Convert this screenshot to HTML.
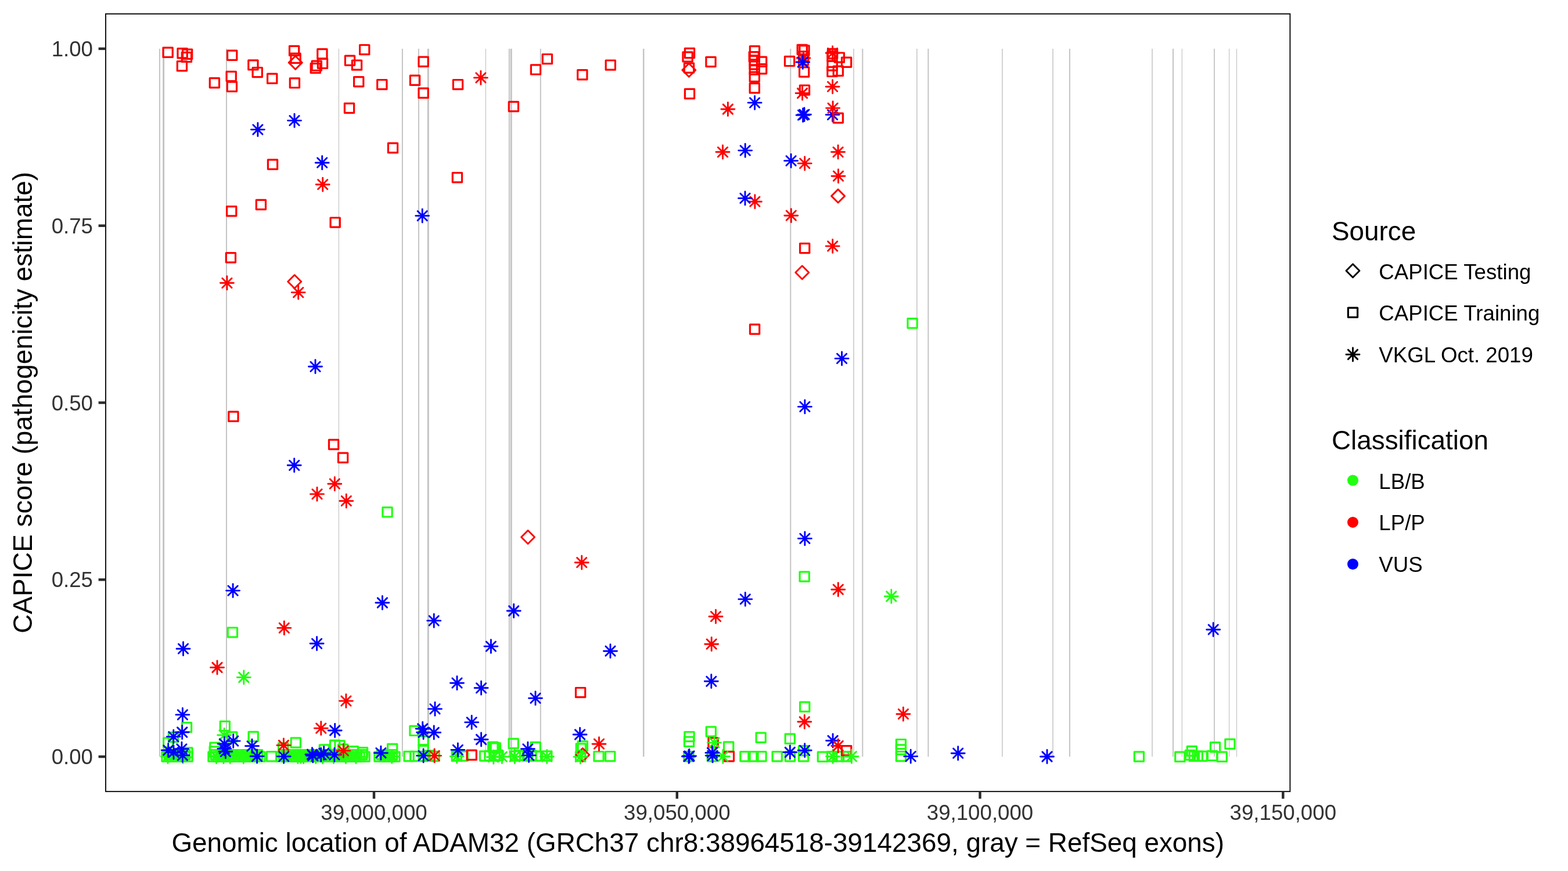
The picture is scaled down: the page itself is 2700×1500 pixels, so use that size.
<!DOCTYPE html>
<html><head><meta charset="utf-8"><title>CAPICE score plot</title>
<style>
html,body{margin:0;padding:0;background:#fff;overflow:hidden;}
svg{display:block;}
text{font-family:"Liberation Sans",Arial,Helvetica,sans-serif;}
</style></head><body>
<svg width="2700" height="1500" viewBox="0 0 2700 1500">
<rect x="0" y="0" width="2700" height="1500" fill="#fff"/>

<g fill="#C4C4C4">
<rect x="273.9" y="83.9" width="2" height="1219.2"/>
<rect x="280.1" y="83.9" width="3" height="1219.2"/>
<rect x="389" y="83.9" width="2" height="1219.2"/>
<rect x="582.8" y="83.9" width="1.2" height="1219.2"/>
<rect x="691.9" y="83.9" width="2" height="1219.2"/>
<rect x="719.9" y="83.9" width="2" height="1219.2"/>
<rect x="735.8" y="83.9" width="3" height="1219.2"/>
<rect x="835.8" y="83.9" width="1.2" height="1219.2"/>
<rect x="875.8" y="83.9" width="2" height="1219.2"/>
<rect x="878.7" y="83.9" width="3" height="1219.2"/>
<rect x="929.8" y="83.9" width="2" height="1219.2"/>
<rect x="1106.95" y="83.9" width="2.5" height="1219.2"/>
<rect x="1360.3" y="83.9" width="2" height="1219.2"/>
<rect x="1469.25" y="83.9" width="1.5" height="1219.2"/>
<rect x="1484.3" y="83.9" width="2" height="1219.2"/>
<rect x="1578.15" y="83.9" width="1.5" height="1219.2"/>
<rect x="1597.4" y="83.9" width="2" height="1219.2"/>
<rect x="1725.15" y="83.9" width="1.5" height="1219.2"/>
<rect x="1812.25" y="83.9" width="1.5" height="1219.2"/>
<rect x="1840.9" y="83.9" width="2" height="1219.2"/>
<rect x="1983.25" y="83.9" width="1.5" height="1219.2"/>
<rect x="2019" y="83.9" width="2" height="1219.2"/>
<rect x="2034.8" y="83.9" width="1.2" height="1219.2"/>
<rect x="2090.1" y="83.9" width="1.8" height="1219.2"/>
<rect x="2116" y="83.9" width="1.2" height="1219.2"/>
<rect x="2128.9" y="83.9" width="1.2" height="1219.2"/>
</g>
<g fill="none" stroke-width="2.9" stroke-linecap="round" stroke-linejoin="round">
<rect x="280.98" y="82.18" width="16.24" height="16.24" stroke="#FF0000" stroke-width="3.2"/>
<rect x="305.98" y="83.68" width="16.24" height="16.24" stroke="#FF0000" stroke-width="3.2"/>
<rect x="314.48" y="85.18" width="16.24" height="16.24" stroke="#FF0000" stroke-width="3.2"/>
<rect x="313.28" y="90.28" width="16.24" height="16.24" stroke="#FF0000" stroke-width="3.2"/>
<rect x="305.28" y="105.68" width="16.24" height="16.24" stroke="#FF0000" stroke-width="3.2"/>
<rect x="391.58" y="87.08" width="16.24" height="16.24" stroke="#FF0000" stroke-width="3.2"/>
<rect x="427.78" y="103.78" width="16.24" height="16.24" stroke="#FF0000" stroke-width="3.2"/>
<rect x="435.08" y="116.48" width="16.24" height="16.24" stroke="#FF0000" stroke-width="3.2"/>
<rect x="460.58" y="127.18" width="16.24" height="16.24" stroke="#FF0000" stroke-width="3.2"/>
<rect x="361.28" y="134.58" width="16.24" height="16.24" stroke="#FF0000" stroke-width="3.2"/>
<rect x="390.08" y="123.28" width="16.24" height="16.24" stroke="#FF0000" stroke-width="3.2"/>
<rect x="391.28" y="141.08" width="16.24" height="16.24" stroke="#FF0000" stroke-width="3.2"/>
<rect x="498.48" y="79.28" width="16.24" height="16.24" stroke="#FF0000" stroke-width="3.2"/>
<rect x="500.98" y="92.18" width="16.24" height="16.24" stroke="#FF0000" stroke-width="3.2"/>
<rect x="546.78" y="84.68" width="16.24" height="16.24" stroke="#FF0000" stroke-width="3.2"/>
<rect x="547.38" y="101.28" width="16.24" height="16.24" stroke="#FF0000" stroke-width="3.2"/>
<rect x="537.18" y="105.18" width="16.24" height="16.24" stroke="#FF0000" stroke-width="3.2"/>
<rect x="535.18" y="109.28" width="16.24" height="16.24" stroke="#FF0000" stroke-width="3.2"/>
<rect x="499.28" y="134.78" width="16.24" height="16.24" stroke="#FF0000" stroke-width="3.2"/>
<rect x="619.58" y="77.48" width="16.24" height="16.24" stroke="#FF0000" stroke-width="3.2"/>
<rect x="594.38" y="96.08" width="16.24" height="16.24" stroke="#FF0000" stroke-width="3.2"/>
<rect x="606.38" y="103.98" width="16.24" height="16.24" stroke="#FF0000" stroke-width="3.2"/>
<rect x="609.58" y="132.58" width="16.24" height="16.24" stroke="#FF0000" stroke-width="3.2"/>
<rect x="649.68" y="137.48" width="16.24" height="16.24" stroke="#FF0000" stroke-width="3.2"/>
<rect x="593.38" y="178.08" width="16.24" height="16.24" stroke="#FF0000" stroke-width="3.2"/>
<rect x="706.38" y="130.18" width="16.24" height="16.24" stroke="#FF0000" stroke-width="3.2"/>
<rect x="720.98" y="98.08" width="16.24" height="16.24" stroke="#FF0000" stroke-width="3.2"/>
<rect x="720.98" y="152.18" width="16.24" height="16.24" stroke="#FF0000" stroke-width="3.2"/>
<path d="M508.7 96.42L520.18 107.9L508.7 119.38L497.22 107.9Z" stroke="#FF0000"/>
<rect x="780.38" y="137.48" width="16.24" height="16.24" stroke="#FF0000" stroke-width="3.2"/>
<rect x="876.28" y="175.38" width="16.24" height="16.24" stroke="#FF0000" stroke-width="3.2"/>
<rect x="914.38" y="111.78" width="16.24" height="16.24" stroke="#FF0000" stroke-width="3.2"/>
<rect x="934.28" y="93.48" width="16.24" height="16.24" stroke="#FF0000" stroke-width="3.2"/>
<path d="M827.9 122.42V145.38M816.42 133.9H839.38M819.78 125.78L836.02 142.02M819.78 142.02L836.02 125.78" stroke="#FF0000"/>
<rect x="994.68" y="120.58" width="16.24" height="16.24" stroke="#FF0000" stroke-width="3.2"/>
<rect x="1043.18" y="103.98" width="16.24" height="16.24" stroke="#FF0000" stroke-width="3.2"/>
<rect x="1179.38" y="83.38" width="16.24" height="16.24" stroke="#FF0000" stroke-width="3.2"/>
<rect x="1175.98" y="89.78" width="16.24" height="16.24" stroke="#FF0000" stroke-width="3.2"/>
<rect x="1178.38" y="108.88" width="16.24" height="16.24" stroke="#FF0000" stroke-width="3.2"/>
<rect x="1179.38" y="153.38" width="16.24" height="16.24" stroke="#FF0000" stroke-width="3.2"/>
<path d="M1186.3 109.22L1197.78 120.7L1186.3 132.18L1174.82 120.7Z" stroke="#FF0000"/>
<rect x="1215.88" y="98.38" width="16.24" height="16.24" stroke="#FF0000" stroke-width="3.2"/>
<path d="M1253.4 176.52V199.48M1241.92 188H1264.88M1245.28 179.88L1261.52 196.12M1245.28 196.12L1261.52 179.88" stroke="#FF0000"/>
<rect x="1291.38" y="79.68" width="16.24" height="16.24" stroke="#FF0000" stroke-width="3.2"/>
<rect x="1290.18" y="89.58" width="16.24" height="16.24" stroke="#FF0000" stroke-width="3.2"/>
<rect x="1291.18" y="96.38" width="16.24" height="16.24" stroke="#FF0000" stroke-width="3.2"/>
<rect x="1291.18" y="102.88" width="16.24" height="16.24" stroke="#FF0000" stroke-width="3.2"/>
<rect x="1291.18" y="111.88" width="16.24" height="16.24" stroke="#FF0000" stroke-width="3.2"/>
<rect x="1291.18" y="124.08" width="16.24" height="16.24" stroke="#FF0000" stroke-width="3.2"/>
<rect x="1291.18" y="143.68" width="16.24" height="16.24" stroke="#FF0000" stroke-width="3.2"/>
<rect x="1303.48" y="98.18" width="16.24" height="16.24" stroke="#FF0000" stroke-width="3.2"/>
<rect x="1303.48" y="110.58" width="16.24" height="16.24" stroke="#FF0000" stroke-width="3.2"/>
<path d="M1299.6 165.42V188.38M1288.12 176.9H1311.08M1291.48 168.78L1307.72 185.02M1291.48 185.02L1307.72 168.78" stroke="#0000FF"/>
<rect x="1351.48" y="97.28" width="16.24" height="16.24" stroke="#FF0000" stroke-width="3.2"/>
<rect x="1373.18" y="77.28" width="16.24" height="16.24" stroke="#FF0000" stroke-width="3.2"/>
<rect x="1376.88" y="78.68" width="16.24" height="16.24" stroke="#FF0000" stroke-width="3.2"/>
<rect x="1375.58" y="88.88" width="16.24" height="16.24" stroke="#FF0000" stroke-width="3.2"/>
<rect x="1375.58" y="95.68" width="16.24" height="16.24" stroke="#FF0000" stroke-width="3.2"/>
<rect x="1376.58" y="115.88" width="16.24" height="16.24" stroke="#FF0000" stroke-width="3.2"/>
<rect x="1377.38" y="146.98" width="16.24" height="16.24" stroke="#FF0000" stroke-width="3.2"/>
<path d="M1383.5 88.52V111.48M1372.02 100H1394.98M1375.38 91.88L1391.62 108.12M1375.38 108.12L1391.62 91.88" stroke="#FF0000"/>
<path d="M1382.3 95.52V118.48M1370.82 107H1393.78M1374.18 98.88L1390.42 115.12M1374.18 115.12L1390.42 98.88" stroke="#0000FF"/>
<path d="M1381.6 149.02V171.98M1370.12 160.5H1393.08M1373.48 152.38L1389.72 168.62M1373.48 168.62L1389.72 152.38" stroke="#FF0000"/>
<path d="M1382.6 186.72V209.68M1371.12 198.2H1394.08M1374.48 190.08L1390.72 206.32M1374.48 206.32L1390.72 190.08" stroke="#0000FF"/>
<path d="M1385 185.72V208.68M1373.52 197.2H1396.48M1376.88 189.08L1393.12 205.32M1376.88 205.32L1393.12 189.08" stroke="#0000FF"/>
<rect x="1425.48" y="84.38" width="16.24" height="16.24" stroke="#FF0000" stroke-width="3.2"/>
<rect x="1424.88" y="88.88" width="16.24" height="16.24" stroke="#FF0000" stroke-width="3.2"/>
<rect x="1437.18" y="90.98" width="16.24" height="16.24" stroke="#FF0000" stroke-width="3.2"/>
<rect x="1449.48" y="99.08" width="16.24" height="16.24" stroke="#FF0000" stroke-width="3.2"/>
<rect x="1425.08" y="104.98" width="16.24" height="16.24" stroke="#FF0000" stroke-width="3.2"/>
<rect x="1424.88" y="115.28" width="16.24" height="16.24" stroke="#FF0000" stroke-width="3.2"/>
<rect x="1435.18" y="114.18" width="16.24" height="16.24" stroke="#FF0000" stroke-width="3.2"/>
<path d="M1433.6 186.12V209.08M1422.12 197.6H1445.08M1425.48 189.48L1441.72 205.72M1425.48 205.72L1441.72 189.48" stroke="#0000FF"/>
<path d="M1433.6 79.82V102.78M1422.12 91.3H1445.08M1425.48 83.18L1441.72 99.42M1425.48 99.42L1441.72 83.18" stroke="#FF0000"/>
<path d="M1433.6 137.72V160.68M1422.12 149.2H1445.08M1425.48 141.08L1441.72 157.32M1425.48 157.32L1441.72 141.08" stroke="#FF0000"/>
<path d="M1434.1 174.62V197.58M1422.62 186.1H1445.58M1425.98 177.98L1442.22 194.22M1425.98 194.22L1442.22 177.98" stroke="#FF0000"/>
<rect x="1435.18" y="195.08" width="16.24" height="16.24" stroke="#FF0000" stroke-width="3.2"/>
<path d="M443.9 211.62V234.58M432.42 223.1H455.38M435.78 214.98L452.02 231.22M435.78 231.22L452.02 214.98" stroke="#0000FF"/>
<path d="M507 196.12V219.08M495.52 207.6H518.48M498.88 199.48L515.12 215.72M498.88 215.72L515.12 199.48" stroke="#0000FF"/>
<path d="M554.7 268.72V291.68M543.22 280.2H566.18M546.58 272.08L562.82 288.32M546.58 288.32L562.82 272.08" stroke="#0000FF"/>
<path d="M727.2 360.12V383.08M715.72 371.6H738.68M719.08 363.48L735.32 379.72M719.08 379.72L735.32 363.48" stroke="#0000FF"/>
<path d="M555.7 306.22V329.18M544.22 317.7H567.18M547.58 309.58L563.82 325.82M547.58 325.82L563.82 309.58" stroke="#FF0000"/>
<rect x="461.38" y="275.08" width="16.24" height="16.24" stroke="#FF0000" stroke-width="3.2"/>
<rect x="668.38" y="246.68" width="16.24" height="16.24" stroke="#FF0000" stroke-width="3.2"/>
<rect x="779.28" y="297.58" width="16.24" height="16.24" stroke="#FF0000" stroke-width="3.2"/>
<rect x="390.58" y="355.58" width="16.24" height="16.24" stroke="#FF0000" stroke-width="3.2"/>
<rect x="441.28" y="344.38" width="16.24" height="16.24" stroke="#FF0000" stroke-width="3.2"/>
<rect x="569.08" y="374.98" width="16.24" height="16.24" stroke="#FF0000" stroke-width="3.2"/>
<rect x="389.28" y="435.58" width="16.24" height="16.24" stroke="#FF0000" stroke-width="3.2"/>
<path d="M390.9 475.82V498.78M379.42 487.3H402.38M382.78 479.18L399.02 495.42M382.78 495.42L399.02 479.18" stroke="#FF0000"/>
<path d="M513.7 492.12V515.08M502.22 503.6H525.18M505.58 495.48L521.82 511.72M505.58 511.72L521.82 495.48" stroke="#FF0000"/>
<path d="M507.2 473.52L518.68 485L507.2 496.48L495.72 485Z" stroke="#FF0000"/>
<path d="M543 619.82V642.78M531.52 631.3H554.48M534.88 623.18L551.12 639.42M534.88 639.42L551.12 623.18" stroke="#0000FF"/>
<rect x="393.78" y="709.18" width="16.24" height="16.24" stroke="#FF0000" stroke-width="3.2"/>
<rect x="566.48" y="757.38" width="16.24" height="16.24" stroke="#FF0000" stroke-width="3.2"/>
<rect x="582.48" y="780.18" width="16.24" height="16.24" stroke="#FF0000" stroke-width="3.2"/>
<path d="M506.7 789.82V812.78M495.22 801.3H518.18M498.58 793.18L514.82 809.42M498.58 809.42L514.82 793.18" stroke="#0000FF"/>
<path d="M576.3 821.72V844.68M564.82 833.2H587.78M568.18 825.08L584.42 841.32M568.18 841.32L584.42 825.08" stroke="#FF0000"/>
<path d="M546 839.42V862.38M534.52 850.9H557.48M537.88 842.78L554.12 859.02M537.88 859.02L554.12 842.78" stroke="#FF0000"/>
<path d="M596.3 851.22V874.18M584.82 862.7H607.78M588.18 854.58L604.42 870.82M588.18 870.82L604.42 854.58" stroke="#FF0000"/>
<rect x="658.88" y="873.78" width="16.24" height="16.24" stroke="#22FF11" stroke-width="3.2"/>
<path d="M909.1 913.52L920.58 925L909.1 936.48L897.62 925Z" stroke="#FF0000"/>
<path d="M1001.7 957.22V980.18M990.22 968.7H1013.18M993.58 960.58L1009.82 976.82M993.58 976.82L1009.82 960.58" stroke="#FF0000"/>
<path d="M658.4 1026.52V1049.48M646.92 1038H669.88M650.28 1029.88L666.52 1046.12M650.28 1046.12L666.52 1029.88" stroke="#0000FF"/>
<path d="M747.2 1057.42V1080.38M735.72 1068.9H758.68M739.08 1060.78L755.32 1077.02M739.08 1077.02L755.32 1060.78" stroke="#0000FF"/>
<path d="M884.7 1040.52V1063.48M873.22 1052H896.18M876.58 1043.88L892.82 1060.12M876.58 1060.12L892.82 1043.88" stroke="#0000FF"/>
<path d="M845.4 1101.62V1124.58M833.92 1113.1H856.88M837.28 1104.98L853.52 1121.22M837.28 1121.22L853.52 1104.98" stroke="#0000FF"/>
<path d="M1051 1109.72V1132.68M1039.52 1121.2H1062.48M1042.88 1113.08L1059.12 1129.32M1042.88 1129.32L1059.12 1113.08" stroke="#0000FF"/>
<path d="M401.1 1005.62V1028.58M389.62 1017.1H412.58M392.98 1008.98L409.22 1025.22M392.98 1025.22L409.22 1008.98" stroke="#0000FF"/>
<path d="M545.6 1096.82V1119.78M534.12 1108.3H557.08M537.48 1100.18L553.72 1116.42M537.48 1116.42L553.72 1100.18" stroke="#0000FF"/>
<path d="M315.5 1105.72V1128.68M304.02 1117.2H326.98M307.38 1109.08L323.62 1125.32M307.38 1125.32L323.62 1109.08" stroke="#0000FF"/>
<rect x="392.28" y="1080.98" width="16.24" height="16.24" stroke="#22FF11" stroke-width="3.2"/>
<path d="M489.3 1069.92V1092.88M477.82 1081.4H500.78M481.18 1073.28L497.42 1089.52M481.18 1089.52L497.42 1073.28" stroke="#FF0000"/>
<path d="M374 1138.02V1160.98M362.52 1149.5H385.48M365.88 1141.38L382.12 1157.62M365.88 1157.62L382.12 1141.38" stroke="#FF0000"/>
<path d="M419.8 1155.02V1177.98M408.32 1166.5H431.28M411.68 1158.38L427.92 1174.62M411.68 1174.62L427.92 1158.38" stroke="#22FF11"/>
<path d="M1244.5 250.32V273.28M1233.02 261.8H1255.98M1236.38 253.68L1252.62 269.92M1236.38 269.92L1252.62 253.68" stroke="#FF0000"/>
<path d="M1385.7 269.92V292.88M1374.22 281.4H1397.18M1377.58 273.28L1393.82 289.52M1377.58 289.52L1393.82 273.28" stroke="#FF0000"/>
<path d="M1443.1 250.32V273.28M1431.62 261.8H1454.58M1434.98 253.68L1451.22 269.92M1434.98 269.92L1451.22 253.68" stroke="#FF0000"/>
<path d="M1443.5 291.72V314.68M1432.02 303.2H1454.98M1435.38 295.08L1451.62 311.32M1435.38 311.32L1451.62 295.08" stroke="#FF0000"/>
<path d="M1299.9 335.72V358.68M1288.42 347.2H1311.38M1291.78 339.08L1308.02 355.32M1291.78 355.32L1308.02 339.08" stroke="#FF0000"/>
<path d="M1362.3 359.72V382.68M1350.82 371.2H1373.78M1354.18 363.08L1370.42 379.32M1354.18 379.32L1370.42 363.08" stroke="#FF0000"/>
<path d="M1433.7 412.42V435.38M1422.22 423.9H1445.18M1425.58 415.78L1441.82 432.02M1425.58 432.02L1441.82 415.78" stroke="#FF0000"/>
<path d="M1283.2 247.62V270.58M1271.72 259.1H1294.68M1275.08 250.98L1291.32 267.22M1275.08 267.22L1291.32 250.98" stroke="#0000FF"/>
<path d="M1362.1 265.42V288.38M1350.62 276.9H1373.58M1353.98 268.78L1370.22 285.02M1353.98 285.02L1370.22 268.78" stroke="#0000FF"/>
<path d="M1283 329.92V352.88M1271.52 341.4H1294.48M1274.88 333.28L1291.12 349.52M1274.88 349.52L1291.12 333.28" stroke="#0000FF"/>
<path d="M1443.1 326.12L1454.58 337.6L1443.1 349.08L1431.62 337.6Z" stroke="#FF0000"/>
<path d="M1381.3 457.82L1392.78 469.3L1381.3 480.78L1369.82 469.3Z" stroke="#FF0000"/>
<rect x="1377.58" y="419.38" width="16.24" height="16.24" stroke="#FF0000" stroke-width="3.2"/>
<rect x="1291.48" y="558.88" width="16.24" height="16.24" stroke="#FF0000" stroke-width="3.2"/>
<rect x="1562.98" y="548.58" width="16.24" height="16.24" stroke="#22FF11" stroke-width="3.2"/>
<rect x="1377.08" y="984.88" width="16.24" height="16.24" stroke="#22FF11" stroke-width="3.2"/>
<path d="M1449.6 605.92V628.88M1438.12 617.4H1461.08M1441.48 609.28L1457.72 625.52M1441.48 625.52L1457.72 609.28" stroke="#0000FF"/>
<path d="M1385.9 688.92V711.88M1374.42 700.4H1397.38M1377.78 692.28L1394.02 708.52M1377.78 708.52L1394.02 692.28" stroke="#0000FF"/>
<path d="M1385.9 915.92V938.88M1374.42 927.4H1397.38M1377.78 919.28L1394.02 935.52M1377.78 935.52L1394.02 919.28" stroke="#0000FF"/>
<path d="M1283.3 1020.42V1043.38M1271.82 1031.9H1294.78M1275.18 1023.78L1291.42 1040.02M1275.18 1040.02L1291.42 1023.78" stroke="#0000FF"/>
<path d="M1224.8 1161.82V1184.78M1213.32 1173.3H1236.28M1216.68 1165.18L1232.92 1181.42M1216.68 1181.42L1232.92 1165.18" stroke="#0000FF"/>
<path d="M2089.2 1072.72V1095.68M2077.72 1084.2H2100.68M2081.08 1076.08L2097.32 1092.32M2081.08 1092.32L2097.32 1076.08" stroke="#0000FF"/>
<path d="M1443.3 1003.72V1026.68M1431.82 1015.2H1454.78M1435.18 1007.08L1451.42 1023.32M1435.18 1023.32L1451.42 1007.08" stroke="#FF0000"/>
<path d="M1232.5 1050.22V1073.18M1221.02 1061.7H1243.98M1224.38 1053.58L1240.62 1069.82M1224.38 1069.82L1240.62 1053.58" stroke="#FF0000"/>
<path d="M1225.2 1097.72V1120.68M1213.72 1109.2H1236.68M1217.08 1101.08L1233.32 1117.32M1217.08 1117.32L1233.32 1101.08" stroke="#FF0000"/>
<path d="M1555.4 1218.22V1241.18M1543.92 1229.7H1566.88M1547.28 1221.58L1563.52 1237.82M1547.28 1237.82L1563.52 1221.58" stroke="#FF0000"/>
<path d="M1534.8 1015.52V1038.48M1523.32 1027H1546.28M1526.68 1018.88L1542.92 1035.12M1526.68 1035.12L1542.92 1018.88" stroke="#22FF11"/>
<rect x="278.88" y="1294.98" width="16.24" height="16.24" stroke="#22FF11" stroke-width="3.2"/>
<rect x="283.38" y="1291.48" width="16.24" height="16.24" stroke="#22FF11" stroke-width="3.2"/>
<rect x="287.88" y="1294.98" width="16.24" height="16.24" stroke="#22FF11" stroke-width="3.2"/>
<rect x="292.38" y="1291.48" width="16.24" height="16.24" stroke="#22FF11" stroke-width="3.2"/>
<rect x="296.88" y="1294.98" width="16.24" height="16.24" stroke="#22FF11" stroke-width="3.2"/>
<rect x="301.38" y="1291.48" width="16.24" height="16.24" stroke="#22FF11" stroke-width="3.2"/>
<rect x="305.88" y="1294.98" width="16.24" height="16.24" stroke="#22FF11" stroke-width="3.2"/>
<rect x="310.38" y="1291.48" width="16.24" height="16.24" stroke="#22FF11" stroke-width="3.2"/>
<rect x="314.88" y="1294.98" width="16.24" height="16.24" stroke="#22FF11" stroke-width="3.2"/>
<rect x="358.88" y="1294.98" width="16.24" height="16.24" stroke="#22FF11" stroke-width="3.2"/>
<rect x="363.38" y="1291.48" width="16.24" height="16.24" stroke="#22FF11" stroke-width="3.2"/>
<rect x="367.88" y="1294.98" width="16.24" height="16.24" stroke="#22FF11" stroke-width="3.2"/>
<rect x="372.38" y="1291.48" width="16.24" height="16.24" stroke="#22FF11" stroke-width="3.2"/>
<rect x="376.88" y="1294.98" width="16.24" height="16.24" stroke="#22FF11" stroke-width="3.2"/>
<rect x="381.38" y="1291.48" width="16.24" height="16.24" stroke="#22FF11" stroke-width="3.2"/>
<rect x="385.88" y="1294.98" width="16.24" height="16.24" stroke="#22FF11" stroke-width="3.2"/>
<rect x="390.38" y="1291.48" width="16.24" height="16.24" stroke="#22FF11" stroke-width="3.2"/>
<rect x="394.88" y="1294.98" width="16.24" height="16.24" stroke="#22FF11" stroke-width="3.2"/>
<rect x="399.38" y="1291.48" width="16.24" height="16.24" stroke="#22FF11" stroke-width="3.2"/>
<rect x="403.88" y="1294.98" width="16.24" height="16.24" stroke="#22FF11" stroke-width="3.2"/>
<rect x="408.38" y="1291.48" width="16.24" height="16.24" stroke="#22FF11" stroke-width="3.2"/>
<rect x="412.88" y="1294.98" width="16.24" height="16.24" stroke="#22FF11" stroke-width="3.2"/>
<rect x="417.38" y="1291.48" width="16.24" height="16.24" stroke="#22FF11" stroke-width="3.2"/>
<rect x="421.88" y="1294.98" width="16.24" height="16.24" stroke="#22FF11" stroke-width="3.2"/>
<rect x="426.38" y="1291.48" width="16.24" height="16.24" stroke="#22FF11" stroke-width="3.2"/>
<rect x="430.88" y="1294.98" width="16.24" height="16.24" stroke="#22FF11" stroke-width="3.2"/>
<rect x="435.38" y="1291.48" width="16.24" height="16.24" stroke="#22FF11" stroke-width="3.2"/>
<rect x="439.88" y="1294.98" width="16.24" height="16.24" stroke="#22FF11" stroke-width="3.2"/>
<rect x="475.88" y="1294.98" width="16.24" height="16.24" stroke="#22FF11" stroke-width="3.2"/>
<rect x="480.38" y="1291.48" width="16.24" height="16.24" stroke="#22FF11" stroke-width="3.2"/>
<rect x="484.88" y="1294.98" width="16.24" height="16.24" stroke="#22FF11" stroke-width="3.2"/>
<rect x="489.38" y="1291.48" width="16.24" height="16.24" stroke="#22FF11" stroke-width="3.2"/>
<rect x="493.88" y="1294.98" width="16.24" height="16.24" stroke="#22FF11" stroke-width="3.2"/>
<rect x="498.38" y="1291.48" width="16.24" height="16.24" stroke="#22FF11" stroke-width="3.2"/>
<rect x="502.88" y="1294.98" width="16.24" height="16.24" stroke="#22FF11" stroke-width="3.2"/>
<rect x="507.38" y="1291.48" width="16.24" height="16.24" stroke="#22FF11" stroke-width="3.2"/>
<rect x="511.88" y="1294.98" width="16.24" height="16.24" stroke="#22FF11" stroke-width="3.2"/>
<rect x="516.38" y="1291.48" width="16.24" height="16.24" stroke="#22FF11" stroke-width="3.2"/>
<rect x="520.88" y="1294.98" width="16.24" height="16.24" stroke="#22FF11" stroke-width="3.2"/>
<rect x="525.38" y="1291.48" width="16.24" height="16.24" stroke="#22FF11" stroke-width="3.2"/>
<rect x="529.88" y="1294.98" width="16.24" height="16.24" stroke="#22FF11" stroke-width="3.2"/>
<rect x="534.38" y="1291.48" width="16.24" height="16.24" stroke="#22FF11" stroke-width="3.2"/>
<rect x="538.88" y="1294.98" width="16.24" height="16.24" stroke="#22FF11" stroke-width="3.2"/>
<rect x="543.38" y="1291.48" width="16.24" height="16.24" stroke="#22FF11" stroke-width="3.2"/>
<rect x="547.88" y="1294.98" width="16.24" height="16.24" stroke="#22FF11" stroke-width="3.2"/>
<rect x="552.38" y="1291.48" width="16.24" height="16.24" stroke="#22FF11" stroke-width="3.2"/>
<rect x="556.88" y="1294.98" width="16.24" height="16.24" stroke="#22FF11" stroke-width="3.2"/>
<rect x="561.38" y="1291.48" width="16.24" height="16.24" stroke="#22FF11" stroke-width="3.2"/>
<rect x="565.88" y="1294.98" width="16.24" height="16.24" stroke="#22FF11" stroke-width="3.2"/>
<rect x="570.38" y="1291.48" width="16.24" height="16.24" stroke="#22FF11" stroke-width="3.2"/>
<rect x="574.88" y="1294.98" width="16.24" height="16.24" stroke="#22FF11" stroke-width="3.2"/>
<rect x="579.38" y="1291.48" width="16.24" height="16.24" stroke="#22FF11" stroke-width="3.2"/>
<rect x="583.88" y="1294.98" width="16.24" height="16.24" stroke="#22FF11" stroke-width="3.2"/>
<rect x="588.38" y="1291.48" width="16.24" height="16.24" stroke="#22FF11" stroke-width="3.2"/>
<rect x="592.88" y="1294.98" width="16.24" height="16.24" stroke="#22FF11" stroke-width="3.2"/>
<rect x="597.38" y="1291.48" width="16.24" height="16.24" stroke="#22FF11" stroke-width="3.2"/>
<rect x="601.88" y="1294.98" width="16.24" height="16.24" stroke="#22FF11" stroke-width="3.2"/>
<rect x="606.38" y="1291.48" width="16.24" height="16.24" stroke="#22FF11" stroke-width="3.2"/>
<rect x="610.88" y="1294.98" width="16.24" height="16.24" stroke="#22FF11" stroke-width="3.2"/>
<rect x="615.38" y="1291.48" width="16.24" height="16.24" stroke="#22FF11" stroke-width="3.2"/>
<rect x="619.88" y="1294.98" width="16.24" height="16.24" stroke="#22FF11" stroke-width="3.2"/>
<rect x="644.88" y="1294.98" width="16.24" height="16.24" stroke="#22FF11" stroke-width="3.2"/>
<rect x="649.38" y="1291.48" width="16.24" height="16.24" stroke="#22FF11" stroke-width="3.2"/>
<rect x="653.88" y="1294.98" width="16.24" height="16.24" stroke="#22FF11" stroke-width="3.2"/>
<rect x="658.38" y="1291.48" width="16.24" height="16.24" stroke="#22FF11" stroke-width="3.2"/>
<rect x="662.88" y="1294.98" width="16.24" height="16.24" stroke="#22FF11" stroke-width="3.2"/>
<rect x="667.38" y="1291.48" width="16.24" height="16.24" stroke="#22FF11" stroke-width="3.2"/>
<rect x="671.88" y="1294.98" width="16.24" height="16.24" stroke="#22FF11" stroke-width="3.2"/>
<rect x="695.98" y="1294.38" width="16.24" height="16.24" stroke="#22FF11" stroke-width="3.2"/>
<rect x="706.68" y="1294.38" width="16.24" height="16.24" stroke="#22FF11" stroke-width="3.2"/>
<rect x="720.98" y="1294.38" width="16.24" height="16.24" stroke="#22FF11" stroke-width="3.2"/>
<rect x="739.98" y="1294.38" width="16.24" height="16.24" stroke="#22FF11" stroke-width="3.2"/>
<rect x="731.88" y="1292.88" width="16.24" height="16.24" stroke="#22FF11" stroke-width="3.2"/>
<rect x="778.18" y="1293.88" width="16.24" height="16.24" stroke="#22FF11" stroke-width="3.2"/>
<rect x="789.18" y="1293.88" width="16.24" height="16.24" stroke="#22FF11" stroke-width="3.2"/>
<rect x="826.48" y="1293.88" width="16.24" height="16.24" stroke="#22FF11" stroke-width="3.2"/>
<rect x="834.88" y="1293.38" width="16.24" height="16.24" stroke="#22FF11" stroke-width="3.2"/>
<rect x="843.88" y="1293.88" width="16.24" height="16.24" stroke="#22FF11" stroke-width="3.2"/>
<rect x="849.88" y="1292.88" width="16.24" height="16.24" stroke="#22FF11" stroke-width="3.2"/>
<rect x="879.18" y="1293.88" width="16.24" height="16.24" stroke="#22FF11" stroke-width="3.2"/>
<rect x="885.88" y="1292.88" width="16.24" height="16.24" stroke="#22FF11" stroke-width="3.2"/>
<rect x="900.48" y="1293.88" width="16.24" height="16.24" stroke="#22FF11" stroke-width="3.2"/>
<rect x="906.88" y="1292.88" width="16.24" height="16.24" stroke="#22FF11" stroke-width="3.2"/>
<rect x="915.28" y="1293.88" width="16.24" height="16.24" stroke="#22FF11" stroke-width="3.2"/>
<rect x="933.68" y="1293.88" width="16.24" height="16.24" stroke="#22FF11" stroke-width="3.2"/>
<rect x="459.28" y="1294.58" width="16.24" height="16.24" stroke="#22FF11" stroke-width="3.2"/>
<rect x="991.48" y="1294.48" width="16.24" height="16.24" stroke="#22FF11" stroke-width="3.2"/>
<rect x="1022.88" y="1294.48" width="16.24" height="16.24" stroke="#22FF11" stroke-width="3.2"/>
<rect x="1042.58" y="1294.48" width="16.24" height="16.24" stroke="#22FF11" stroke-width="3.2"/>
<rect x="1177.78" y="1294.58" width="16.24" height="16.24" stroke="#22FF11" stroke-width="3.2"/>
<rect x="1218.28" y="1294.58" width="16.24" height="16.24" stroke="#22FF11" stroke-width="3.2"/>
<rect x="1274.88" y="1294.58" width="16.24" height="16.24" stroke="#22FF11" stroke-width="3.2"/>
<rect x="1288.88" y="1294.58" width="16.24" height="16.24" stroke="#22FF11" stroke-width="3.2"/>
<rect x="1302.88" y="1294.58" width="16.24" height="16.24" stroke="#22FF11" stroke-width="3.2"/>
<rect x="1330.08" y="1294.58" width="16.24" height="16.24" stroke="#22FF11" stroke-width="3.2"/>
<rect x="1352.38" y="1294.58" width="16.24" height="16.24" stroke="#22FF11" stroke-width="3.2"/>
<rect x="1375.48" y="1294.58" width="16.24" height="16.24" stroke="#22FF11" stroke-width="3.2"/>
<rect x="1408.28" y="1295.08" width="16.24" height="16.24" stroke="#22FF11" stroke-width="3.2"/>
<rect x="1424.58" y="1294.58" width="16.24" height="16.24" stroke="#22FF11" stroke-width="3.2"/>
<rect x="1436.38" y="1294.58" width="16.24" height="16.24" stroke="#22FF11" stroke-width="3.2"/>
<rect x="1449.18" y="1294.58" width="16.24" height="16.24" stroke="#22FF11" stroke-width="3.2"/>
<rect x="1543.28" y="1294.48" width="16.24" height="16.24" stroke="#22FF11" stroke-width="3.2"/>
<rect x="1953.28" y="1294.88" width="16.24" height="16.24" stroke="#22FF11" stroke-width="3.2"/>
<rect x="2023.68" y="1295.18" width="16.24" height="16.24" stroke="#22FF11" stroke-width="3.2"/>
<rect x="2041.28" y="1292.28" width="16.24" height="16.24" stroke="#22FF11" stroke-width="3.2"/>
<rect x="2048.18" y="1294.18" width="16.24" height="16.24" stroke="#22FF11" stroke-width="3.2"/>
<rect x="2054.08" y="1294.18" width="16.24" height="16.24" stroke="#22FF11" stroke-width="3.2"/>
<rect x="2061.88" y="1294.18" width="16.24" height="16.24" stroke="#22FF11" stroke-width="3.2"/>
<rect x="2079.48" y="1293.28" width="16.24" height="16.24" stroke="#22FF11" stroke-width="3.2"/>
<rect x="2096.08" y="1295.18" width="16.24" height="16.24" stroke="#22FF11" stroke-width="3.2"/>
<rect x="313.38" y="1244.48" width="16.24" height="16.24" stroke="#22FF11" stroke-width="3.2"/>
<rect x="290.38" y="1261.38" width="16.24" height="16.24" stroke="#22FF11" stroke-width="3.2"/>
<rect x="281.58" y="1270.88" width="16.24" height="16.24" stroke="#22FF11" stroke-width="3.2"/>
<rect x="314.88" y="1287.88" width="16.24" height="16.24" stroke="#22FF11" stroke-width="3.2"/>
<rect x="379.18" y="1242.28" width="16.24" height="16.24" stroke="#22FF11" stroke-width="3.2"/>
<rect x="391.68" y="1260.88" width="16.24" height="16.24" stroke="#22FF11" stroke-width="3.2"/>
<rect x="428.08" y="1260.38" width="16.24" height="16.24" stroke="#22FF11" stroke-width="3.2"/>
<rect x="361.78" y="1279.18" width="16.24" height="16.24" stroke="#22FF11" stroke-width="3.2"/>
<rect x="361.08" y="1285.88" width="16.24" height="16.24" stroke="#22FF11" stroke-width="3.2"/>
<rect x="501.18" y="1270.88" width="16.24" height="16.24" stroke="#22FF11" stroke-width="3.2"/>
<rect x="479.58" y="1279.88" width="16.24" height="16.24" stroke="#22FF11" stroke-width="3.2"/>
<rect x="568.48" y="1275.08" width="16.24" height="16.24" stroke="#22FF11" stroke-width="3.2"/>
<rect x="576.88" y="1275.78" width="16.24" height="16.24" stroke="#22FF11" stroke-width="3.2"/>
<rect x="550.28" y="1282.78" width="16.24" height="16.24" stroke="#22FF11" stroke-width="3.2"/>
<rect x="582.48" y="1282.08" width="16.24" height="16.24" stroke="#22FF11" stroke-width="3.2"/>
<rect x="600.28" y="1285.58" width="16.24" height="16.24" stroke="#22FF11" stroke-width="3.2"/>
<rect x="616.38" y="1287.68" width="16.24" height="16.24" stroke="#22FF11" stroke-width="3.2"/>
<rect x="667.58" y="1281.38" width="16.24" height="16.24" stroke="#22FF11" stroke-width="3.2"/>
<rect x="705.88" y="1250.28" width="16.24" height="16.24" stroke="#22FF11" stroke-width="3.2"/>
<rect x="720.98" y="1268.18" width="16.24" height="16.24" stroke="#22FF11" stroke-width="3.2"/>
<rect x="720.98" y="1282.68" width="16.24" height="16.24" stroke="#22FF11" stroke-width="3.2"/>
<rect x="840.68" y="1278.18" width="16.24" height="16.24" stroke="#22FF11" stroke-width="3.2"/>
<rect x="842.88" y="1279.38" width="16.24" height="16.24" stroke="#22FF11" stroke-width="3.2"/>
<rect x="845.28" y="1279.88" width="16.24" height="16.24" stroke="#22FF11" stroke-width="3.2"/>
<rect x="876.08" y="1272.28" width="16.24" height="16.24" stroke="#22FF11" stroke-width="3.2"/>
<rect x="914.08" y="1278.28" width="16.24" height="16.24" stroke="#22FF11" stroke-width="3.2"/>
<rect x="995.18" y="1276.58" width="16.24" height="16.24" stroke="#22FF11" stroke-width="3.2"/>
<rect x="992.18" y="1280.78" width="16.24" height="16.24" stroke="#22FF11" stroke-width="3.2"/>
<rect x="1178.88" y="1260.48" width="16.24" height="16.24" stroke="#22FF11" stroke-width="3.2"/>
<rect x="1178.38" y="1269.18" width="16.24" height="16.24" stroke="#22FF11" stroke-width="3.2"/>
<rect x="1216.18" y="1251.88" width="16.24" height="16.24" stroke="#22FF11" stroke-width="3.2"/>
<rect x="1246.58" y="1277.78" width="16.24" height="16.24" stroke="#22FF11" stroke-width="3.2"/>
<rect x="1302.08" y="1262.08" width="16.24" height="16.24" stroke="#22FF11" stroke-width="3.2"/>
<rect x="1352.18" y="1264.18" width="16.24" height="16.24" stroke="#22FF11" stroke-width="3.2"/>
<rect x="1377.58" y="1209.18" width="16.24" height="16.24" stroke="#22FF11" stroke-width="3.2"/>
<rect x="1375.48" y="1284.58" width="16.24" height="16.24" stroke="#22FF11" stroke-width="3.2"/>
<rect x="1543.28" y="1273.48" width="16.24" height="16.24" stroke="#22FF11" stroke-width="3.2"/>
<rect x="1543.28" y="1282.88" width="16.24" height="16.24" stroke="#22FF11" stroke-width="3.2"/>
<rect x="2044.28" y="1285.38" width="16.24" height="16.24" stroke="#22FF11" stroke-width="3.2"/>
<rect x="2084.38" y="1278.58" width="16.24" height="16.24" stroke="#22FF11" stroke-width="3.2"/>
<rect x="2109.78" y="1273.08" width="16.24" height="16.24" stroke="#22FF11" stroke-width="3.2"/>
<rect x="804.08" y="1292.18" width="16.24" height="16.24" stroke="#FF0000" stroke-width="3.2"/>
<rect x="991.48" y="1184.48" width="16.24" height="16.24" stroke="#FF0000" stroke-width="3.2"/>
<rect x="1219.98" y="1270.78" width="16.24" height="16.24" stroke="#FF0000" stroke-width="3.2"/>
<rect x="1247.28" y="1294.58" width="16.24" height="16.24" stroke="#FF0000" stroke-width="3.2"/>
<rect x="1449.58" y="1284.58" width="16.24" height="16.24" stroke="#FF0000" stroke-width="3.2"/>
<path d="M1003.3 1288.52L1014.78 1300L1003.3 1311.48L991.82 1300Z" stroke="#FF0000"/>
<path d="M289 1291.52V1314.48M277.52 1303H300.48M280.88 1294.88L297.12 1311.12M280.88 1311.12L297.12 1294.88" stroke="#22FF11"/>
<path d="M315 1291.52V1314.48M303.52 1303H326.48M306.88 1294.88L323.12 1311.12M306.88 1311.12L323.12 1294.88" stroke="#22FF11"/>
<path d="M386.1 1254.52V1277.48M374.62 1266H397.58M377.98 1257.88L394.22 1274.12M377.98 1274.12L394.22 1257.88" stroke="#22FF11"/>
<path d="M372.4 1291.52V1314.48M360.92 1303H383.88M364.28 1294.88L380.52 1311.12M364.28 1311.12L380.52 1294.88" stroke="#22FF11"/>
<path d="M384.9 1291.52V1314.48M373.42 1303H396.38M376.78 1294.88L393.02 1311.12M376.78 1311.12L393.02 1294.88" stroke="#22FF11"/>
<path d="M396.1 1291.52V1314.48M384.62 1303H407.58M387.98 1294.88L404.22 1311.12M387.98 1311.12L404.22 1294.88" stroke="#22FF11"/>
<path d="M419.2 1291.52V1314.48M407.72 1303H430.68M411.08 1294.88L427.32 1311.12M411.08 1311.12L427.32 1294.88" stroke="#22FF11"/>
<path d="M512.8 1291.52V1314.48M501.32 1303H524.28M504.68 1294.88L520.92 1311.12M504.68 1311.12L520.92 1294.88" stroke="#22FF11"/>
<path d="M522.6 1291.52V1314.48M511.12 1303H534.08M514.48 1294.88L530.72 1311.12M514.48 1311.12L530.72 1294.88" stroke="#22FF11"/>
<path d="M517.9 1291.12V1314.08M506.42 1302.6H529.38M509.78 1294.48L526.02 1310.72M509.78 1310.72L526.02 1294.48" stroke="#22FF11"/>
<path d="M674.8 1291.22V1314.18M663.32 1302.7H686.28M666.68 1294.58L682.92 1310.82M666.68 1310.82L682.92 1294.58" stroke="#22FF11"/>
<path d="M786.7 1291.12V1314.08M775.22 1302.6H798.18M778.58 1294.48L794.82 1310.72M778.58 1310.72L794.82 1294.48" stroke="#22FF11"/>
<path d="M864.4 1291.62V1314.58M852.92 1303.1H875.88M856.28 1294.98L872.52 1311.22M856.28 1311.22L872.52 1294.98" stroke="#22FF11"/>
<path d="M886.3 1291.52V1314.48M874.82 1303H897.78M878.18 1294.88L894.42 1311.12M878.18 1311.12L894.42 1294.88" stroke="#22FF11"/>
<path d="M941.8 1291.52V1314.48M930.32 1303H953.28M933.68 1294.88L949.92 1311.12M933.68 1311.12L949.92 1294.88" stroke="#22FF11"/>
<path d="M849.8 1292.22V1315.18M838.32 1303.7H861.28M841.68 1295.58L857.92 1311.82M841.68 1311.82L857.92 1295.58" stroke="#22FF11"/>
<path d="M999.4 1291.92V1314.88M987.92 1303.4H1010.88M991.28 1295.28L1007.52 1311.52M991.28 1311.52L1007.52 1295.28" stroke="#22FF11"/>
<path d="M1229.9 1267.42V1290.38M1218.42 1278.9H1241.38M1221.78 1270.78L1238.02 1287.02M1221.78 1287.02L1238.02 1270.78" stroke="#22FF11"/>
<path d="M1226.4 1289.82V1312.78M1214.92 1301.3H1237.88M1218.28 1293.18L1234.52 1309.42M1218.28 1309.42L1234.52 1293.18" stroke="#22FF11"/>
<path d="M1244.9 1291.22V1314.18M1233.42 1302.7H1256.38M1236.78 1294.58L1253.02 1310.82M1236.78 1310.82L1253.02 1294.58" stroke="#22FF11"/>
<path d="M1466.4 1291.22V1314.18M1454.92 1302.7H1477.88M1458.28 1294.58L1474.52 1310.82M1458.28 1310.82L1474.52 1294.58" stroke="#22FF11"/>
<path d="M1434.1 1291.22V1314.18M1422.62 1302.7H1445.58M1425.98 1294.58L1442.22 1310.82M1425.98 1310.82L1442.22 1294.58" stroke="#22FF11"/>
<path d="M543.8 1291.52V1314.48M532.32 1303H555.28M535.68 1294.88L551.92 1311.12M535.68 1311.12L551.92 1294.88" stroke="#22FF11"/>
<path d="M555.6 1291.52V1314.48M544.12 1303H567.08M547.48 1294.88L563.72 1311.12M547.48 1311.12L563.72 1294.88" stroke="#22FF11"/>
<path d="M574.5 1291.52V1314.48M563.02 1303H585.98M566.38 1294.88L582.62 1311.12M566.38 1311.12L582.62 1294.88" stroke="#22FF11"/>
<path d="M595.5 1291.52V1314.48M584.02 1303H606.98M587.38 1294.88L603.62 1311.12M587.38 1311.12L603.62 1294.88" stroke="#22FF11"/>
<path d="M612.9 1291.52V1314.48M601.42 1303H624.38M604.78 1294.88L621.02 1311.12M604.78 1311.12L621.02 1294.88" stroke="#22FF11"/>
<path d="M314.4 1219.42V1242.38M302.92 1230.9H325.88M306.28 1222.78L322.52 1239.02M306.28 1239.02L322.52 1222.78" stroke="#0000FF"/>
<path d="M313.7 1249.52V1272.48M302.22 1261H325.18M305.58 1252.88L321.82 1269.12M305.58 1269.12L321.82 1252.88" stroke="#0000FF"/>
<path d="M298.8 1257.12V1280.08M287.32 1268.6H310.28M290.68 1260.48L306.92 1276.72M290.68 1276.72L306.92 1260.48" stroke="#0000FF"/>
<path d="M289.7 1280.52V1303.48M278.22 1292H301.18M281.58 1283.88L297.82 1300.12M281.58 1300.12L297.82 1283.88" stroke="#0000FF"/>
<path d="M299 1284.02V1306.98M287.52 1295.5H310.48M290.88 1287.38L307.12 1303.62M290.88 1303.62L307.12 1287.38" stroke="#0000FF"/>
<path d="M314.4 1289.32V1312.28M302.92 1300.8H325.88M306.28 1292.68L322.52 1308.92M306.28 1308.92L322.52 1292.68" stroke="#0000FF"/>
<path d="M312.9 1278.32V1301.28M301.42 1289.8H324.38M304.78 1281.68L321.02 1297.92M304.78 1297.92L321.02 1281.68" stroke="#0000FF"/>
<path d="M401.7 1264.62V1287.58M390.22 1276.1H413.18M393.58 1267.98L409.82 1284.22M393.58 1284.22L409.82 1267.98" stroke="#0000FF"/>
<path d="M386.5 1269.52V1292.48M375.02 1281H397.98M378.38 1272.88L394.62 1289.12M378.38 1289.12L394.62 1272.88" stroke="#0000FF"/>
<path d="M434 1273.32V1296.28M422.52 1284.8H445.48M425.88 1276.68L442.12 1292.92M425.88 1292.92L442.12 1276.68" stroke="#0000FF"/>
<path d="M388.4 1282.82V1305.78M376.92 1294.3H399.88M380.28 1286.18L396.52 1302.42M380.28 1302.42L396.52 1286.18" stroke="#0000FF"/>
<path d="M386.3 1277.92V1300.88M374.82 1289.4H397.78M378.18 1281.28L394.42 1297.52M378.18 1297.52L394.42 1281.28" stroke="#0000FF"/>
<path d="M442.6 1291.02V1313.98M431.12 1302.5H454.08M434.48 1294.38L450.72 1310.62M434.48 1310.62L450.72 1294.38" stroke="#0000FF"/>
<path d="M488.7 1291.22V1314.18M477.22 1302.7H500.18M480.58 1294.58L496.82 1310.82M480.58 1310.82L496.82 1294.58" stroke="#0000FF"/>
<path d="M538.8 1289.92V1312.88M527.32 1301.4H550.28M530.68 1293.28L546.92 1309.52M530.68 1309.52L546.92 1293.28" stroke="#0000FF"/>
<path d="M576.7 1246.52V1269.48M565.22 1258H588.18M568.58 1249.88L584.82 1266.12M568.58 1266.12L584.82 1249.88" stroke="#0000FF"/>
<path d="M537.5 1287.72V1310.68M526.02 1299.2H548.98M529.38 1291.08L545.62 1307.32M529.38 1307.32L545.62 1291.08" stroke="#0000FF"/>
<path d="M552.8 1288.42V1311.38M541.32 1299.9H564.28M544.68 1291.78L560.92 1308.02M544.68 1308.02L560.92 1291.78" stroke="#0000FF"/>
<path d="M557.7 1285.62V1308.58M546.22 1297.1H569.18M549.58 1288.98L565.82 1305.22M549.58 1305.22L565.82 1288.98" stroke="#0000FF"/>
<path d="M575.9 1288.42V1311.38M564.42 1299.9H587.38M567.78 1291.78L584.02 1308.02M567.78 1308.02L584.02 1291.78" stroke="#0000FF"/>
<path d="M655.9 1285.22V1308.18M644.42 1296.7H667.38M647.78 1288.58L664.02 1304.82M647.78 1304.82L664.02 1288.58" stroke="#0000FF"/>
<path d="M727.7 1243.52V1266.48M716.22 1255H739.18M719.58 1246.88L735.82 1263.12M719.58 1263.12L735.82 1246.88" stroke="#0000FF"/>
<path d="M729.1 1249.72V1272.68M717.62 1261.2H740.58M720.98 1253.08L737.22 1269.32M720.98 1269.32L737.22 1253.08" stroke="#0000FF"/>
<path d="M747.2 1250.02V1272.98M735.72 1261.5H758.68M739.08 1253.38L755.32 1269.62M739.08 1269.62L755.32 1253.38" stroke="#0000FF"/>
<path d="M749 1209.42V1232.38M737.52 1220.9H760.48M740.88 1212.78L757.12 1229.02M740.88 1229.02L757.12 1212.78" stroke="#0000FF"/>
<path d="M787 1164.72V1187.68M775.52 1176.2H798.48M778.88 1168.08L795.12 1184.32M778.88 1184.32L795.12 1168.08" stroke="#0000FF"/>
<path d="M828.6 1173.32V1196.28M817.12 1184.8H840.08M820.48 1176.68L836.72 1192.92M820.48 1192.92L836.72 1176.68" stroke="#0000FF"/>
<path d="M812.2 1232.42V1255.38M800.72 1243.9H823.68M804.08 1235.78L820.32 1252.02M804.08 1252.02L820.32 1235.78" stroke="#0000FF"/>
<path d="M828.6 1262.02V1284.98M817.12 1273.5H840.08M820.48 1265.38L836.72 1281.62M820.48 1281.62L836.72 1265.38" stroke="#0000FF"/>
<path d="M788.4 1279.92V1302.88M776.92 1291.4H799.88M780.28 1283.28L796.52 1299.52M780.28 1299.52L796.52 1283.28" stroke="#0000FF"/>
<path d="M729.1 1289.92V1312.88M717.62 1301.4H740.58M720.98 1293.28L737.22 1309.52M720.98 1309.52L737.22 1293.28" stroke="#0000FF"/>
<path d="M922 1190.92V1213.88M910.52 1202.4H933.48M913.88 1194.28L930.12 1210.52M913.88 1210.52L930.12 1194.28" stroke="#0000FF"/>
<path d="M908.9 1278.32V1301.28M897.42 1289.8H920.38M900.78 1281.68L917.02 1297.92M900.78 1297.92L917.02 1281.68" stroke="#0000FF"/>
<path d="M910.6 1289.42V1312.38M899.12 1300.9H922.08M902.48 1292.78L918.72 1309.02M902.48 1309.02L918.72 1292.78" stroke="#0000FF"/>
<path d="M998.6 1253.52V1276.48M987.12 1265H1010.08M990.48 1256.88L1006.72 1273.12M990.48 1273.12L1006.72 1256.88" stroke="#0000FF"/>
<path d="M1185.9 1291.22V1314.18M1174.42 1302.7H1197.38M1177.78 1294.58L1194.02 1310.82M1177.78 1310.82L1194.02 1294.58" stroke="#0000FF"/>
<path d="M1187 1290.52V1313.48M1175.52 1302H1198.48M1178.88 1293.88L1195.12 1310.12M1178.88 1310.12L1195.12 1293.88" stroke="#0000FF"/>
<path d="M1226.4 1284.92V1307.88M1214.92 1296.4H1237.88M1218.28 1288.28L1234.52 1304.52M1218.28 1304.52L1234.52 1288.28" stroke="#0000FF"/>
<path d="M1227.1 1289.82V1312.78M1215.62 1301.3H1238.58M1218.98 1293.18L1235.22 1309.42M1218.98 1309.42L1235.22 1293.18" stroke="#0000FF"/>
<path d="M1360.3 1284.02V1306.98M1348.82 1295.5H1371.78M1352.18 1287.38L1368.42 1303.62M1352.18 1303.62L1368.42 1287.38" stroke="#0000FF"/>
<path d="M1385.7 1280.82V1303.78M1374.22 1292.3H1397.18M1377.58 1284.18L1393.82 1300.42M1377.58 1300.42L1393.82 1284.18" stroke="#0000FF"/>
<path d="M1434.1 1264.02V1286.98M1422.62 1275.5H1445.58M1425.98 1267.38L1442.22 1283.62M1425.98 1283.62L1442.22 1267.38" stroke="#0000FF"/>
<path d="M1568.2 1291.12V1314.08M1556.72 1302.6H1579.68M1560.08 1294.48L1576.32 1310.72M1560.08 1310.72L1576.32 1294.48" stroke="#0000FF"/>
<path d="M1649.7 1285.72V1308.68M1638.22 1297.2H1661.18M1641.58 1289.08L1657.82 1305.32M1641.58 1305.32L1657.82 1289.08" stroke="#0000FF"/>
<path d="M1803 1291.52V1314.48M1791.52 1303H1814.48M1794.88 1294.88L1811.12 1311.12M1794.88 1311.12L1811.12 1294.88" stroke="#0000FF"/>
<path d="M488.4 1272.02V1294.98M476.92 1283.5H499.88M480.28 1275.38L496.52 1291.62M480.28 1291.62L496.52 1275.38" stroke="#FF0000"/>
<path d="M552.8 1242.62V1265.58M541.32 1254.1H564.28M544.68 1245.98L560.92 1262.22M544.68 1262.22L560.92 1245.98" stroke="#FF0000"/>
<path d="M591.3 1281.42V1304.38M579.82 1292.9H602.78M583.18 1284.78L599.42 1301.02M583.18 1301.02L599.42 1284.78" stroke="#FF0000"/>
<path d="M595.9 1195.62V1218.58M584.42 1207.1H607.38M587.78 1198.98L604.02 1215.22M587.78 1215.22L604.02 1198.98" stroke="#FF0000"/>
<path d="M748.1 1289.92V1312.88M736.62 1301.4H759.58M739.98 1293.28L756.22 1309.52M739.98 1309.52L756.22 1293.28" stroke="#FF0000"/>
<path d="M1031.5 1269.72V1292.68M1020.02 1281.2H1042.98M1023.38 1273.08L1039.62 1289.32M1023.38 1289.32L1039.62 1273.08" stroke="#FF0000"/>
<path d="M1385.3 1231.52V1254.48M1373.82 1243H1396.78M1377.18 1234.88L1393.42 1251.12M1377.18 1251.12L1393.42 1234.88" stroke="#FF0000"/>
<path d="M1443.2 1273.02V1295.98M1431.72 1284.5H1454.68M1435.08 1276.38L1451.32 1292.62M1435.08 1292.62L1451.32 1276.38" stroke="#FF0000"/>
</g>
<rect x="182" y="23.9" width="2039.4" height="1339.2" fill="none" stroke="#141414" stroke-width="2"/>
<g stroke="#2B2B2B" stroke-width="4.45">
<line x1="169.6" y1="1303.1" x2="182" y2="1303.1"/>
<line x1="169.6" y1="998.3" x2="182" y2="998.3"/>
<line x1="169.6" y1="693.5" x2="182" y2="693.5"/>
<line x1="169.6" y1="388.7" x2="182" y2="388.7"/>
<line x1="169.6" y1="83.9" x2="182" y2="83.9"/>
<line x1="644" y1="1363.1" x2="644" y2="1375.5"/>
<line x1="1165.8" y1="1363.1" x2="1165.8" y2="1375.5"/>
<line x1="1687.5" y1="1363.1" x2="1687.5" y2="1375.5"/>
<line x1="2209.3" y1="1363.1" x2="2209.3" y2="1375.5"/>
</g>
<g fill="#333333" font-size="36.67px">
<text x="160" y="1316.1" text-anchor="end">0.00</text>
<text x="160" y="1011.3" text-anchor="end">0.25</text>
<text x="160" y="706.5" text-anchor="end">0.50</text>
<text x="160" y="401.7" text-anchor="end">0.75</text>
<text x="160" y="96.9" text-anchor="end">1.00</text>
<text x="644" y="1411.7" text-anchor="middle">39,000,000</text>
<text x="1165.8" y="1411.7" text-anchor="middle">39,050,000</text>
<text x="1687.5" y="1411.7" text-anchor="middle">39,100,000</text>
<text x="2209.3" y="1411.7" text-anchor="middle">39,150,000</text>
</g>
<text x="1201.7" y="1467.3" text-anchor="middle" font-size="45.83px" fill="#000">Genomic location of ADAM32 (GRCh37 chr8:38964518-39142369, gray = RefSeq exons)</text>
<text transform="translate(55,693.4) rotate(-90)" text-anchor="middle" font-size="45.83px" fill="#000">CAPICE score (pathogenicity estimate)</text>
<g fill="#000">
<text x="2293" y="413.5" font-size="45.83px">Source</text>
<text x="2293" y="774.4" font-size="45.83px">Classification</text>
<text x="2374.3" y="480.5" font-size="36.67px">CAPICE Testing</text>
<text x="2374.3" y="551.8" font-size="36.67px">CAPICE Training</text>
<text x="2374.3" y="624.2" font-size="36.67px">VKGL Oct. 2019</text>
<text x="2374.3" y="841.5" font-size="36.67px">LB/B</text>
<text x="2374.3" y="913.4" font-size="36.67px">LP/P</text>
<text x="2374.3" y="985.1" font-size="36.67px">VUS</text>
</g>
<g fill="none" stroke="#000" stroke-width="2.9" stroke-linecap="round" stroke-linejoin="round">
<path d="M2329.5 454.82L2340.98 466.3L2329.5 477.78L2318.02 466.3Z" stroke="#000"/>
<rect x="2321.38" y="530.08" width="16.24" height="16.24" stroke="#000" stroke-width="3.2"/>
<path d="M2329.5 599.02V621.98M2318.02 610.5H2340.98M2321.38 602.38L2337.62 618.62M2321.38 618.62L2337.62 602.38" stroke="#000"/>
</g>
<circle cx="2329.5" cy="827.3" r="9.5" fill="#22FF11"/>
<circle cx="2329.5" cy="899.4" r="9.5" fill="#FF0000"/>
<circle cx="2329.5" cy="971.5" r="9.5" fill="#0000FF"/>
</svg>
</body></html>
